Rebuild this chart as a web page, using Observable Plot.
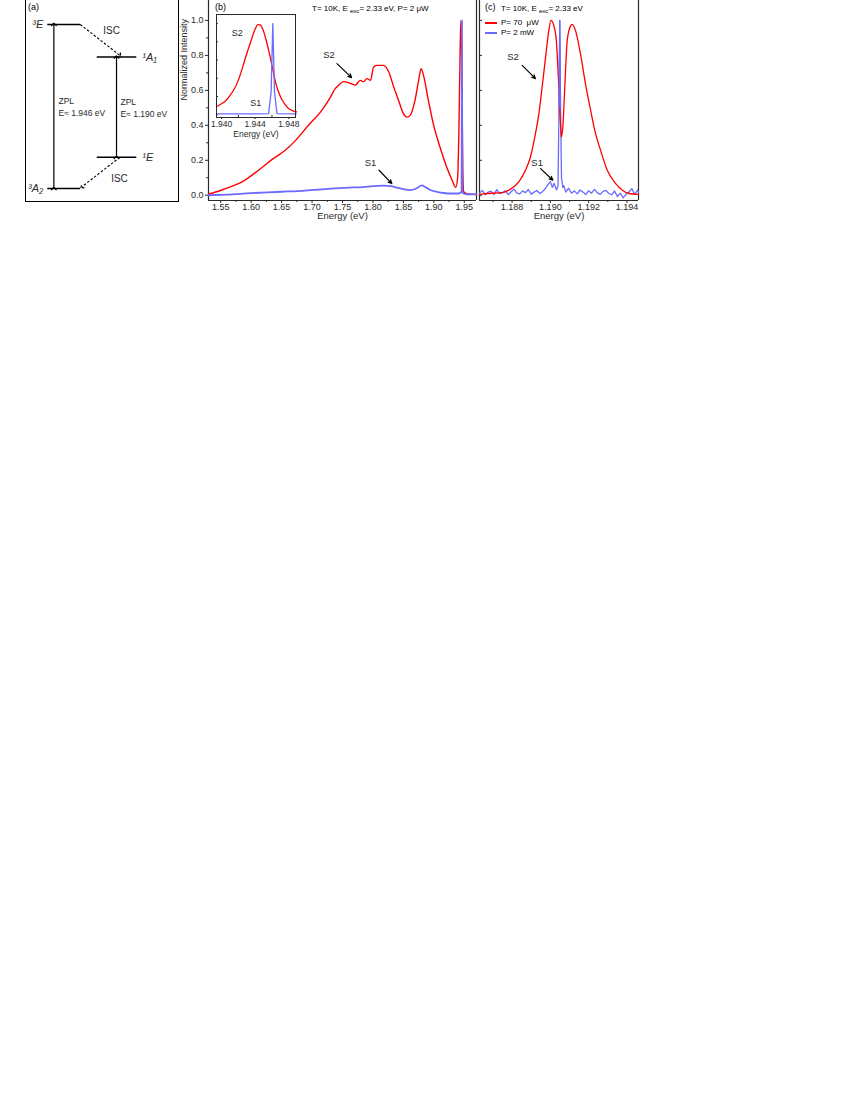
<!DOCTYPE html>
<html><head><meta charset="utf-8">
<script src="https://cdn.jsdelivr.net/npm/d3@7"></script>
<script src="https://cdn.jsdelivr.net/npm/@observablehq/plot@0.6"></script>
<style>
body{margin:0;background:#fff;font-family:"Liberation Sans",Arial,sans-serif;}
#page{position:relative;width:850px;height:1100px;overflow:hidden;background:#fff}
.lab{position:absolute;color:#000;white-space:nowrap;line-height:1;font-size:8px;z-index:5}
.lab sub{font-size:6px;vertical-align:-2px;line-height:0}
.sw{position:absolute;width:12px;height:2px;z-index:6}
</style></head><body><div id="page">
<div class="lab" style="left:28px;top:3px;font-size:9px">(a)</div>
<div class="lab" style="left:215px;top:3px;font-size:9px">(b)</div>
<div class="lab" style="left:312px;top:5px">T= 10K, E <sub>exc</sub>= 2.33 eV, P= 2 μW</div>
<div class="lab" style="left:485px;top:3px;font-size:9px">(c)</div>
<div class="lab" style="left:501px;top:5px">T= 10K, E <sub>exc</sub>= 2.33 eV</div>
<div class="sw" style="left:485px;top:22px;background-color:rgb(255,0,0)"></div>
<div class="lab" style="left:501px;top:19px">P= 70&nbsp; μW</div>
<div class="sw" style="left:485px;top:31.5px;background-color:rgb(107,107,255)"></div>
<div class="lab" style="left:501px;top:28.5px">P= 2 mW</div>
</div>
<script>
// ================= DATA =================
// panel (a): energy-level scheme (energies in eV)
const levelNames  = ["³E", "¹A₁", "¹E", "³A₂"];
const levelEnergy = [1.946, 1.56, 0.37, 0];
const levelSpin   = ["triplet", "singlet", "singlet", "triplet"];
const zplLabels   = ["ZPL\nE≈ 1.946 eV", "ZPL\nE≈ 1.190 eV"];
const zplFrom     = ["³A₂", "¹E"];
const zplTo       = ["³E", "¹A₁"];
const iscFrom     = ["³E", "¹E"];
const iscTo       = ["¹A₁", "³A₂"];
const iscLabels   = ["ISC", "ISC"];

// panel (b): T=10K, P=2 µW   (energy eV, normalized intensity)
const bRedE = [1.530,1.533,1.558,1.585,1.612,1.634,1.656,1.673,1.694,1.716,1.730,1.738,1.741,1.752,1.763,1.771,1.779,1.785,1.790,1.796,1.801,1.806,1.817,1.826,1.834,1.842,1.850,1.856,1.861,1.869,1.875,1.879,1.883,1.891,1.899,1.910,1.921,1.930,1.936,1.939,1.941,1.943,1.9443,1.9455,1.9465,1.9475,1.949,1.955,1.970];
const bRedI = [0.008,0.010,0.038,0.076,0.143,0.204,0.257,0.314,0.400,0.486,0.560,0.610,0.620,0.650,0.640,0.630,0.657,0.650,0.667,0.657,0.733,0.743,0.743,0.705,0.620,0.543,0.467,0.447,0.457,0.543,0.657,0.724,0.686,0.543,0.410,0.276,0.162,0.086,0.045,0.100,0.350,0.800,1.000,0.850,0.500,0.150,0.020,0.008,0.005];
const bBlueE = [1.530,1.560,1.600,1.650,1.689,1.730,1.760,1.784,1.800,1.817,1.830,1.839,1.850,1.861,1.872,1.880,1.887,1.894,1.905,1.916,1.930,1.940,1.9455,1.9461,1.9467,1.950,1.960,1.970];
const bBlueI = [0.000,0.004,0.012,0.020,0.027,0.038,0.044,0.047,0.052,0.055,0.052,0.044,0.035,0.029,0.040,0.057,0.045,0.030,0.020,0.013,0.010,0.010,0.020,1.000,0.020,0.008,0.005,0.005];
const bXTicks = [1.55,1.60,1.65,1.70,1.75,1.80,1.85,1.90,1.95];
const bXMinor = [1.575,1.625,1.675,1.725,1.775,1.825,1.875,1.925];
const bYTicks = [0.0,0.2,0.4,0.6,0.8,1.0];
const bYMinor = [0.1,0.3,0.5,0.7,0.9];
const bNotes  = ["S2", "S1"];
const bNoteE  = [1.728, 1.796];
const bNoteI  = [0.80, 0.183];
const bArrowE1 = [1.741, 1.810], bArrowI1 = [0.753, 0.143];
const bArrowE2 = [1.765, 1.831], bArrowI2 = [0.673, 0.067];

// inset of (b): zoom on the 1.946 eV ZPL
const inRedE = [1.9394,1.9400,1.9405,1.9410,1.9415,1.9420,1.9425,1.9430,1.9435,1.9440,1.9443,1.9446,1.9449,1.9453,1.9457,1.9460,1.9465,1.9470,1.9475,1.9481,1.9485,1.9489];
const inRedI = [0.088,0.12,0.154,0.21,0.28,0.38,0.52,0.67,0.81,0.94,0.99,0.985,0.94,0.82,0.67,0.54,0.33,0.20,0.12,0.06,0.042,0.033];
const inBlueE = [1.9394,1.9440,1.9456,1.9459,1.9461,1.9463,1.9466,1.9489];
const inBlueI = [0.010,0.010,0.012,0.25,1.0,0.25,0.012,0.010];
const inXTicks = [1.940,1.944,1.948];
const inXMinor = [1.942,1.946];
const inYTicks = [0,0.2,0.4,0.6,0.8,1.0];
const inNotes = ["S2","S1"], inNoteE = [1.94187,1.94406], inNoteI = [0.90,0.124];

// panel (c): 1.190 eV ZPL, P=70 µW (red) and P=2 mW (blue)
const cRedE = [1.1863,1.1865,1.1875,1.18783,1.18835,1.1887,1.18896,1.18922,1.1894,1.18957,1.18975,1.18992,1.19003,1.19018,1.19031,1.19044,1.19053,1.19058,1.19065,1.19076,1.19088,1.19106,1.19114,1.19131,1.19157,1.19183,1.1921,1.19236,1.19262,1.19297,1.19341,1.19376,1.1941,1.1946];
const cRedI = [0.005,0.008,0.015,0.029,0.076,0.143,0.219,0.352,0.467,0.619,0.790,0.943,1.000,0.970,0.886,0.619,0.400,0.333,0.390,0.638,0.886,0.970,0.978,0.943,0.810,0.638,0.486,0.352,0.257,0.143,0.067,0.029,0.010,0.005];
const cBlueE = [1.1863,1.18645,1.1866,1.18675,1.1869,1.18705,1.1872,1.18735,1.1875,1.18765,1.1878,1.18795,1.1881,1.18825,1.1884,1.18855,1.1887,1.18885,1.189,1.18915,1.1893,1.18945,1.1896,1.18975,1.1899,1.19,1.1901,1.1902,1.19032,1.1904,1.19045,1.19049,1.19053,1.19058,1.19065,1.1907,1.1908,1.19095,1.1911,1.19125,1.1914,1.19155,1.1917,1.19185,1.192,1.19215,1.1923,1.19245,1.1926,1.19275,1.1929,1.19305,1.1932,1.19335,1.1935,1.19365,1.1938,1.19395,1.1941,1.19425,1.1944,1.19455,1.1946];
const cBlueI = [0.012,0.028,0.002,0.018,0.024,0.004,0.032,0.010,0.015,0.026,0.003,0.020,0.035,0.012,0.008,0.025,0.015,0.033,0.006,0.018,0.027,0.010,0.022,0.040,0.065,0.078,0.045,0.068,0.030,0.055,0.500,1.000,0.500,0.100,0.045,0.055,0.018,0.040,0.012,0.025,0.008,0.030,0.018,0.004,0.026,0.012,0.034,0.015,0.005,0.022,0.028,0.010,0.003,0.024,-0.008,0.012,-0.015,0.006,0.018,0.038,0.005,0.030,0.015];
const cXTicks = [1.188,1.190,1.192,1.194];
const cXMinor = [1.187,1.189,1.191,1.193];
const cYTicks = [0,0.2,0.4,0.6,0.8,1.0];
const cNotes = ["S2","S1"], cNoteE = [1.18805,1.18931], cNoteI = [0.79,0.185];
const cArrowE1 = [1.18853,1.18949], cArrowI1 = [0.743,0.152];
const cArrowE2 = [1.18922,1.19013], cArrowI2 = [0.667,0.086];

// ================= RENDER =================
const RED = "#ff0000", BLUE = "#6b6bff", AX = "#2a2a2a";
const font = "'Liberation Sans', Arial, Helvetica, sans-serif";
const page = document.getElementById("page");
const zip = (E, I) => E.map((e, i) => ({E: e, I: I[i]}));
function place(svg, left, top) {
  svg.style.position = "absolute";
  svg.style.left = left + "px";
  svg.style.top = top + "px";
  svg.style.zIndex = "1";
  page.appendChild(svg);
}
const baseStyle = {background: "transparent", fontFamily: font, fontSize: "9px", color: AX, overflow: "visible"};

// ---- panel (a) ----
const column = {triplet: [0, 1], singlet: [1.5, 2.7]};
const zplX = [0.2, 2.1], zplTextX = [0.34, 2.22];
const iscStartX = [1, 2.2], iscEndX = [2.2, 1.05], iscEndDE = [0.02, 0.02];
const iscTextX = [1.95, 2.19], iscTextE = [1.875, 0.119];
const E = Object.fromEntries(levelNames.map((n, i) => [n, levelEnergy[i]]));
const levels = levelNames.map((n, i) => ({name: n, energy: levelEnergy[i], spin: levelSpin[i]}));
const triplets = levels.filter(d => d.spin === "triplet");
const singlets = levels.filter(d => d.spin === "singlet");
const zpl = zplLabels.map((t, i) => ({text: t, x: zplX[i], tx: zplTextX[i], lo: E[zplFrom[i]], hi: E[zplTo[i]]}));
const isc = iscLabels.map((t, i) => ({text: t, x1: iscStartX[i], y1: E[iscFrom[i]], x2: iscEndX[i], y2: E[iscTo[i]] + iscEndDE[i], tx: iscTextX[i], ty: iscTextE[i]}));

const plotA = Plot.plot({
  width: 155, height: 204, marginLeft: 1, marginRight: 1, marginTop: 0, marginBottom: 1,
  style: baseStyle,
  x: {domain: [-0.66, 3.98], axis: null},
  y: {domain: [-0.154, 2.254], axis: null},
  marks: [
    Plot.frame({stroke: "#000", strokeWidth: 1}),
    Plot.link(levels, {x1: d => column[d.spin][0], x2: d => column[d.spin][1], y1: "energy", y2: "energy", stroke: "#000", strokeWidth: 1.5}),
    Plot.text(triplets, {x: () => column.triplet[0], y: "energy", text: "name", textAnchor: "end", dx: -4, fontSize: 11, fontStyle: "italic"}),
    Plot.text(singlets, {x: () => column.singlet[1], y: "energy", text: "name", textAnchor: "start", dx: 6, fontSize: 11, fontStyle: "italic"}),
    Plot.link(zpl, {x1: "x", x2: "x", y1: "lo", y2: "hi", stroke: "#000", strokeWidth: 1.2, markerStart: "arrow", markerEnd: "arrow"}),
    Plot.text(zpl, {x: "tx", y: d => (d.lo + d.hi) / 2, text: "text", textAnchor: "start", fontSize: 8.5, lineHeight: 1.35}),
    Plot.link(isc, {x1: "x1", y1: "y1", x2: "x2", y2: "y2", stroke: "#000", strokeWidth: 1.1, strokeDasharray: "2.5,1.8", markerEnd: "arrow"}),
    Plot.text(isc, {x: "tx", y: "ty", text: "text", fontSize: 10})
  ]
});
place(plotA, 24, -2);

// ---- panel (b) ----
const bXD = [1.53, 1.97], bYD = [-0.03, 1.114];
const bNotesD = bNotes.map((t, i) => ({t, E: bNoteE[i], I: bNoteI[i]}));
const bArrows = bNotes.map((t, i) => ({x1: bArrowE1[i], y1: bArrowI1[i], x2: bArrowE2[i], y2: bArrowI2[i]}));
const plotB = Plot.plot({
  width: 320, height: 225, marginLeft: 48, marginRight: 4, marginTop: 0, marginBottom: 25,
  style: baseStyle,
  x: {domain: bXD, label: null}, y: {domain: bYD, label: null},
  marks: [
    Plot.axisX({ticks: bXTicks, tickFormat: d3.format(".2f"), tickSize: 3, tickPadding: 0, label: null, fontSize: 9}),
    Plot.axisX({ticks: bXMinor, tickFormat: () => "", tickSize: 2, label: null}),
    Plot.axisY({ticks: bYTicks, tickFormat: d3.format(".1f"), tickSize: 3, tickPadding: 2, label: null, fontSize: 9}),
    Plot.axisY({ticks: bYMinor, tickFormat: () => "", tickSize: 2, label: null}),
    Plot.ruleX(bXD, {stroke: AX, strokeWidth: 1.2}),
    Plot.ruleY([bYD[0]], {stroke: AX, strokeWidth: 1.2}),
    Plot.line(zip(bRedE, bRedI), {x: "E", y: "I", stroke: RED, strokeWidth: 1.4, curve: "monotone-x"}),
    Plot.line(zip(bBlueE, bBlueI), {x: "E", y: "I", stroke: BLUE, strokeWidth: 1.8, curve: "monotone-x"}),
    Plot.text(bNotesD, {x: "E", y: "I", text: "t", fontSize: 9.5}),
    Plot.arrow(bArrows, {x1: "x1", y1: "y1", x2: "x2", y2: "y2", stroke: "#000", strokeWidth: 1.2, headLength: 5, headAngle: 50}),
    Plot.text(["Normalized Intensity"], {frameAnchor: "left", rotate: -90, dx: -24, fontSize: 9}),
    Plot.text(["Energy (eV)"], {frameAnchor: "bottom", dy: 18.5, fontSize: 9.5})
  ]
});
place(plotB, 160, 0);

// ---- inset of (b) ----
const inXD = [1.9394, 1.9488], inYD = [-0.03, 1.1];
const inNotesD = inNotes.map((t, i) => ({t, E: inNoteE[i], I: inNoteI[i]}));
const plotIn = Plot.plot({
  width: 95, height: 135, marginLeft: 6, marginRight: 10, marginTop: 4, marginBottom: 28,
  style: baseStyle,
  x: {domain: inXD, label: null}, y: {domain: inYD, label: null},
  marks: [
    Plot.frame({fill: "white", stroke: "none"}),
    Plot.axisX({ticks: inXTicks, tickFormat: d3.format(".3f"), tickSize: 2, tickPadding: 1, label: null, fontSize: 8.5}),
    Plot.axisX({ticks: inXMinor, tickFormat: () => "", tickSize: -2, label: null}),
    Plot.axisY({ticks: inYTicks, tickFormat: () => "", tickSize: -2, label: null}),
    Plot.line(zip(inRedE, inRedI), {x: "E", y: "I", stroke: RED, strokeWidth: 1.3, curve: "monotone-x"}),
    Plot.line(zip(inBlueE, inBlueI), {x: "E", y: "I", stroke: BLUE, strokeWidth: 1.3}),
    Plot.text(inNotesD, {x: "E", y: "I", text: "t", fontSize: 9}),
    Plot.frame({stroke: AX, strokeWidth: 1}),
    Plot.text(["Energy (eV)"], {frameAnchor: "bottom", dy: 19, fontSize: 8.5})
  ]
});
place(plotIn, 210, 10);

// ---- panel (c) ----
const cXD = [1.1863, 1.1946], cYD = [-0.03, 1.114];
const cNotesD = cNotes.map((t, i) => ({t, E: cNoteE[i], I: cNoteI[i]}));
const cArrows = cNotes.map((t, i) => ({x1: cArrowE1[i], y1: cArrowI1[i], x2: cArrowE2[i], y2: cArrowI2[i]}));
const plotC = Plot.plot({
  width: 175, height: 225, marginLeft: 9, marginRight: 7, marginTop: 0, marginBottom: 25,
  style: baseStyle,
  x: {domain: cXD, label: null}, y: {domain: cYD, label: null},
  marks: [
    Plot.axisX({ticks: cXTicks, tickFormat: d3.format(".3f"), tickSize: 3, tickPadding: 0, label: null, fontSize: 9}),
    Plot.axisX({ticks: cXMinor, tickFormat: () => "", tickSize: 2, label: null}),
    Plot.axisY({ticks: cYTicks, tickFormat: () => "", tickSize: -3, label: null}),
    Plot.ruleX(cXD, {stroke: AX, strokeWidth: 1.2}),
    Plot.ruleY([cYD[0]], {stroke: AX, strokeWidth: 1.2}),
    Plot.line(zip(cBlueE, cBlueI), {x: "E", y: "I", stroke: BLUE, strokeWidth: 1.3}),
    Plot.line(zip(cRedE, cRedI), {x: "E", y: "I", stroke: RED, strokeWidth: 1.3, curve: "monotone-x"}),
    Plot.line(zip(cBlueE, cBlueI).filter(d => d.I > 0.3), {x: "E", y: "I", stroke: BLUE, strokeWidth: 1.3}),
    Plot.text(cNotesD, {x: "E", y: "I", text: "t", fontSize: 9.5}),
    Plot.arrow(cArrows, {x1: "x1", y1: "y1", x2: "x2", y2: "y2", stroke: "#000", strokeWidth: 1.2, headLength: 5, headAngle: 50}),
    Plot.text(["Energy (eV)"], {frameAnchor: "bottom", dy: 18.5, fontSize: 9.5})
  ]
});
place(plotC, 470, 0);
</script></body></html>
